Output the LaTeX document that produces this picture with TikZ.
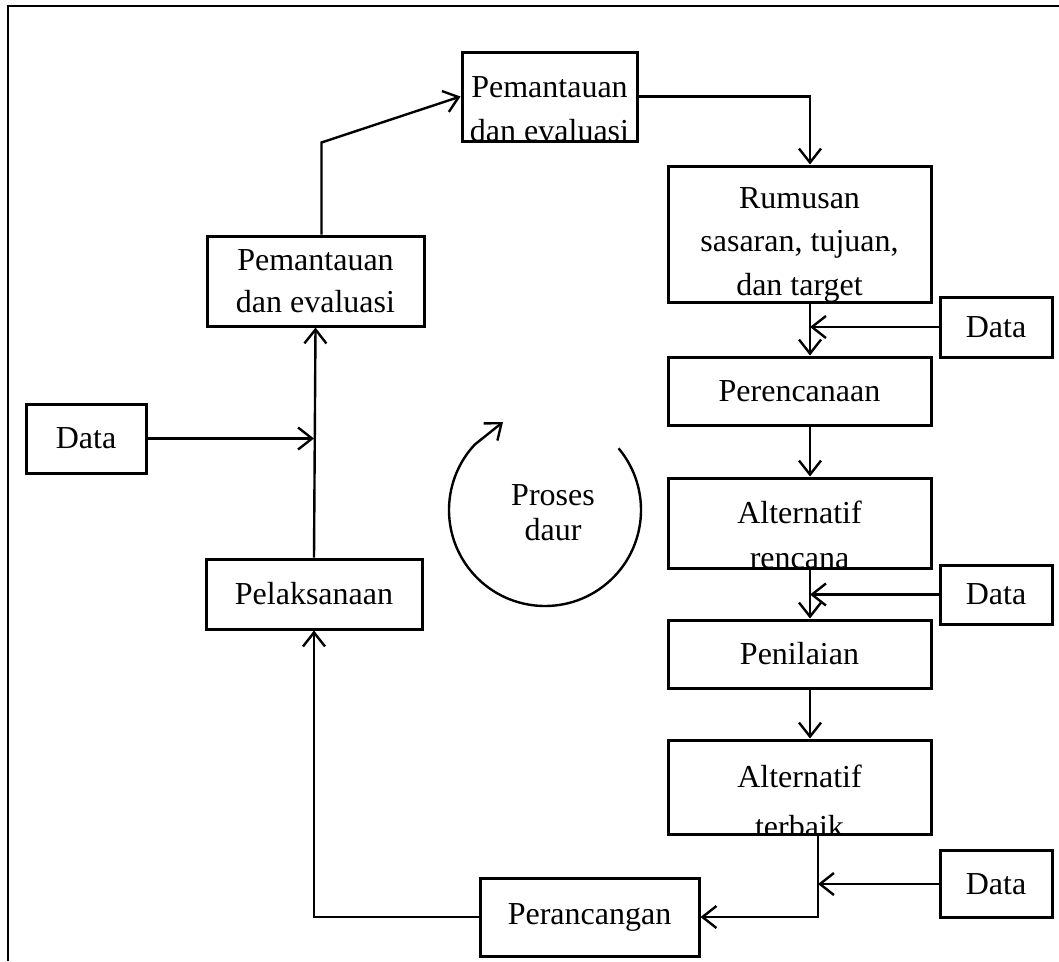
\documentclass[tikz,border=0pt]{standalone}
\usepackage{fontspec}
\setmainfont{Liberation Serif}
\usetikzlibrary{arrows.meta}
\begin{document}
\begin{tikzpicture}[x=1pt,y=-1pt,
  box/.style={draw, line width=3pt, inner sep=0pt, font=\fontsize{32}{42}\selectfont, align=center},
  conn/.style={line width=2.4pt, -{Straight Barb[length=14pt,width=22pt,line width=2.4pt]}},
  lbl/.style={anchor=base, inner sep=0pt, font=\fontsize{32}{42}\selectfont},
]
\useasboundingbox (0,0) rectangle (1059,961);
% frame (top and left edges)
\draw[line width=2.5pt] (8,961) -- (8,6) -- (1059,6);

% boxes
\node[box, minimum width=175pt, minimum height=89pt, path picture={
  \node[lbl] at ([yshift=-45pt]path picture bounding box.north) {Pemantauan};
  \node[lbl] at ([yshift=-89pt]path picture bounding box.north) {dan evaluasi};}]
  (pe2) at (549.5,96.5) {};
\node[box, minimum width=263pt, minimum height=136pt, path picture={
  \node[lbl] at ([yshift=-42pt]path picture bounding box.north) {Rumusan};
  \node[lbl] at ([yshift=-85pt]path picture bounding box.north) {sasaran, tujuan,};
  \node[lbl] at ([yshift=-129pt]path picture bounding box.north) {dan target};}]
  (rum) at (799.5,234) {};
\node[box, minimum width=263pt, minimum height=68pt] (per) at (799.5,391) {Perencanaan};
\node[box, minimum width=263pt, minimum height=90pt, path picture={
  \node[lbl] at ([yshift=-45pt]path picture bounding box.north) {Alternatif};
  \node[lbl] at ([yshift=-90pt]path picture bounding box.north) {rencana};}]
  (altr) at (799.5,523) {};
\node[box, minimum width=263pt, minimum height=68pt] (pen) at (799.5,654) {Penilaian};
\node[box, minimum width=263pt, minimum height=94pt, path picture={
  \node[lbl] at ([yshift=-47pt]path picture bounding box.north) {Alternatif};
  \node[lbl] at ([yshift=-97pt]path picture bounding box.north) {terbaik};}]
  (altt) at (799.5,787) {};
\node[box, minimum width=219pt, minimum height=78pt] (pr) at (589.5,917) {Perancangan};
\node[box, minimum width=216pt, minimum height=70pt] (pl) at (314,594) {Pelaksanaan};
\node[box, minimum width=217pt, minimum height=90pt] (pe1) at (315.5,281) {Pemantauan\\dan evaluasi};
\node[box, minimum width=120pt, minimum height=69pt] (dl) at (86,438.5) {Data};
\node[box, minimum width=112pt, minimum height=60pt] (d1) at (996,327) {Data};
\node[box, minimum width=112pt, minimum height=59pt] (d2) at (996,594.5) {Data};
\node[box, minimum width=112pt, minimum height=67pt] (d3) at (996,884) {Data};

\coordinate (colA) at (810,0);
\coordinate (colB) at (818,0);

% connectors
\draw[conn] (pe2.east) -| (rum.north -| colA);
\draw[conn] (rum.south -| colA) -- (per.north -| colA);
\draw[conn] (d1.west) -- (d1.west -| colA);
\draw[conn] (per.south -| colA) -- (altr.north -| colA);
\draw[conn] (altr.south -| colA) -- (pen.north -| colA);
\draw[conn] (d2.west) -- (d2.west -| colA);
\draw[conn] (pen.south -| colA) -- (altt.north -| colA);
\draw[conn] (altt.south -| colB) |- (pr.east);
\draw[conn] (d3.west) -- (d3.west -| colB);
\draw[conn] (pr.west) -| (pl.south);
\draw[conn] (pl.north) -- (pe1.south);
\draw[conn] (dl.east) -- (dl.east -| pl.north);
\draw[conn] ([xshift=6pt]pe1.north) -- ([xshift=6pt]pe1.north |- pe2.south) -- (pe2.west);

% cycle
\coordinate (cc) at (545,510);
\coordinate (ctip) at (503,422);
\draw[conn] (cc) ++(-40:96) arc[start angle=-40, end angle=223, radius=96] -- (ctip);
\node[lbl] (proc1) at (553,505) {Proses};
\node[lbl] (proc2) at (553,540) {daur};
\end{tikzpicture}
\end{document}
